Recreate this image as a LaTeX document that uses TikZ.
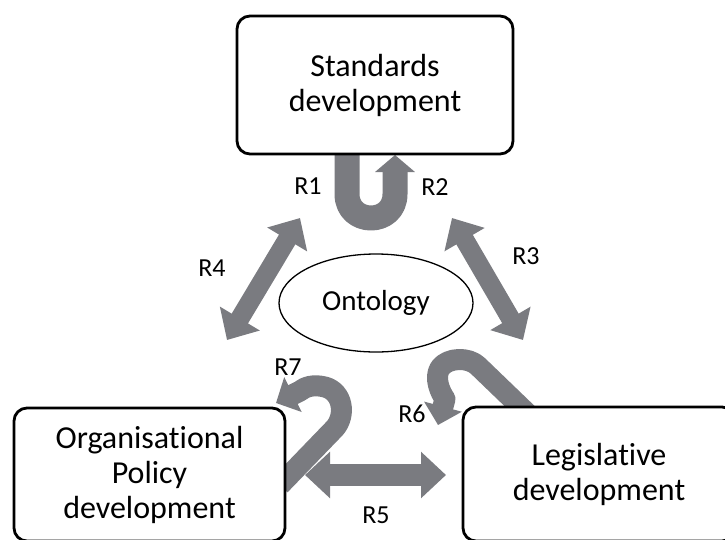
\documentclass[tikz,border=0pt]{standalone}
\usepackage{fontspec}
\setmainfont{Carlito}[Ligatures=NoCommon]
\usetikzlibrary{arrows.meta,shapes.geometric}
\definecolor{agrey}{RGB}{122,123,128}
\begin{document}
\begin{tikzpicture}[x=1pt,y=-1pt,
  box/.style={draw=black, line width=2.8pt, rounded corners=13pt, fill=white, align=center,
              font=\fontsize{32}{35}\selectfont, inner sep=0pt},
  lbl/.style={font=\fontsize{26}{30}\selectfont, inner sep=0pt},
  dblarrow/.style={draw=agrey, line width=19pt,
     {Triangle[width=45pt,length=25pt]}-{Triangle[width=45pt,length=25pt]}},
  uarrow/.style={draw=agrey, line width=25pt, line join=round,
     -{Triangle[width=39pt,length=17pt]}},
  hookarrow/.style={draw=agrey, line width=21pt, line join=round,
     -{Triangle[width=38pt,length=19pt]}}
]
\useasboundingbox[fill=white] (0,0) rectangle (725,539);

% connector end points
\coordinate (r4a) at (300,218); \coordinate (r4b) at (227,340);
\coordinate (r3a) at (452,218); \coordinate (r3b) at (523,340);
\coordinate (r5a) at (305,475); \coordinate (r5b) at (446,475);
\coordinate (ua) at (347,150);  \coordinate (ub) at (395,155);
\coordinate (r7a) at (280,485); \coordinate (r7b) at (276,403);
\coordinate (r6a) at (532,418); \coordinate (r6b) at (438,425);

% arrows
\draw[dblarrow] (r4a) -- (r4b);
\draw[dblarrow] (r3a) -- (r3b);
\draw[dblarrow, line width=22pt] (r5a) -- (r5b);
\draw[uarrow] (ua) -- (347,194) .. controls (347,226) and (395,226) .. (395,194) -- (ub);
\draw[hookarrow] (r7a) -- (335,428) .. controls (346,415) and (343,392) .. (325,387)
   .. controls (313,384) and (305,387) .. (300,391) -- (r7b);
\draw[hookarrow] (r6a) -- (478,366) .. controls (469,357) and (448,357) .. (440,368)
   .. controls (434,378) and (440,392) .. (445,399) -- (r6b);

% boxes
\node[box, minimum width=276pt, minimum height=138pt] (std) at (375,85) {Standards\\development};
\node[box, minimum width=271pt, minimum height=133pt] (org) at (149.5,474.5) {Organisational\\Policy\\development};
\node[box, minimum width=272pt, minimum height=134pt] (leg) at (599,474) {Legislative\\development};
\node[draw=black, line width=1.3pt, ellipse, minimum width=194pt, minimum height=98pt, inner sep=0pt,
      font=\fontsize{29}{33}\selectfont] (onto) at (376,303) {Ontology};

% labels
\node[lbl] (l1) at (308,186) {R1};
\node[lbl] (l2) at (435,187) {R2};
\node[lbl] (l3) at (526,256) {R3};
\node[lbl] (l4) at (212,268) {R4};
\node[lbl] (l5) at (376,515) {R5};
\node[lbl] (l6) at (412,414) {R6};
\node[lbl] (l7) at (288,367) {R7};
\end{tikzpicture}
\end{document}
